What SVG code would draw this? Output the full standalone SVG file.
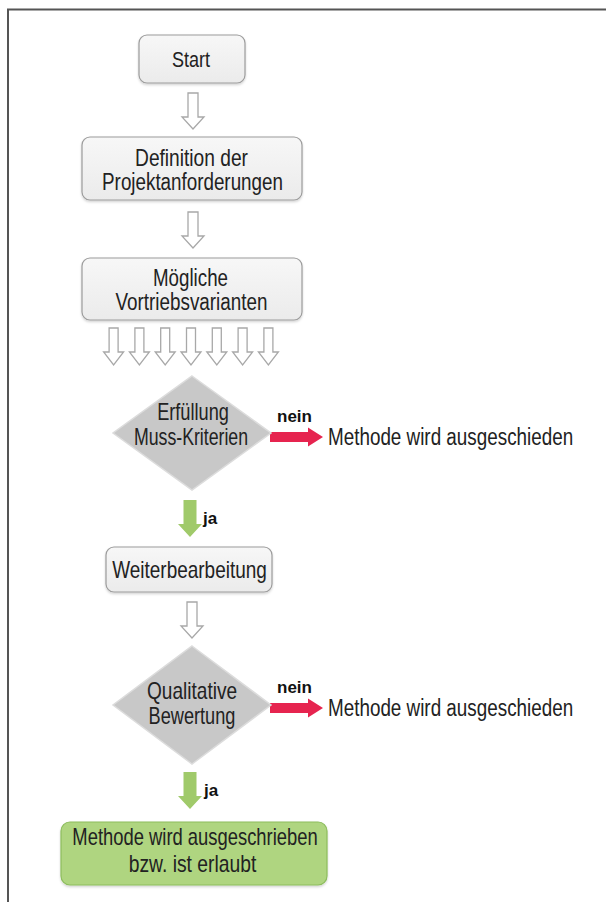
<svg xmlns="http://www.w3.org/2000/svg" width="606" height="902" viewBox="0 0 606 902">
  <style>
    .box { fill: url(#boxFill); stroke: #9c9c9c; stroke-width: 1.2; filter: url(#soft); }
    .goal { fill: #afd580; stroke: #8dbd5d; stroke-width: 1.2; filter: url(#soft); }
    .dia { fill: #c8c8c8; stroke: #dcdcdc; stroke-width: 1.5; }
    .lbl { font-family: "Liberation Sans", Arial, sans-serif; font-size: 23px; fill: #222; text-anchor: middle; }
    .side { font-family: "Liberation Sans", Arial, sans-serif; font-size: 23px; fill: #222; }
    .tag { font-family: "Liberation Sans", Arial, sans-serif; font-size: 17px; font-weight: bold; fill: #111; }
    .hollow { fill: #ffffff; stroke: #a8a8a8; stroke-width: 1.3; }
    .no { fill: #e6244f; }
    .yes { fill: #a0ca6a; }
    .frame { stroke: #555; stroke-width: 2; fill: none; }
  </style>
  <defs>
    <linearGradient id="boxFill" x1="0" y1="0" x2="0" y2="1">
      <stop offset="0" stop-color="#f7f7f7"/>
      <stop offset="1" stop-color="#ebebeb"/>
    </linearGradient>
    <filter id="soft" x="-10%" y="-10%" width="120%" height="130%">
      <feDropShadow dx="0" dy="1.5" stdDeviation="1.2" flood-color="#000" flood-opacity="0.18"/>
    </filter>
    <!-- outlined down arrow, origin at top centre -->
    <path id="down" d="M-5,0 H5 V24 H11 L0,36 L-11,24 H-5 Z"/>
    <path id="downSmall" d="M-4.5,0 H4.5 V24 H10 L0,37 L-10,24 H-4.5 Z"/>
    <!-- filled right arrow, origin at left middle -->
    <path id="right" d="M0,-5 H38 V-9.5 L53,0 L38,9.5 V5 H0 Z"/>
    <!-- filled down arrow, origin at top centre -->
    <path id="downFill" d="M-6.5,0 H6.5 V24 H12 L0,37 L-12,24 H-6.5 Z"/>
  </defs>

  <!-- page frame -->
  <g id="frame">
    <path class="frame" d="M7,9.5 H606"/>
    <path class="frame" d="M8,9 V902"/>
  </g>

  <g id="connectors">
    <use href="#down" class="hollow" x="193" y="93"/>
    <use href="#down" class="hollow" x="193" y="212"/>
    <use href="#downSmall" class="hollow" x="113.6" y="328"/>
    <use href="#downSmall" class="hollow" x="139.4" y="328"/>
    <use href="#downSmall" class="hollow" x="165.2" y="328"/>
    <use href="#downSmall" class="hollow" x="191" y="328"/>
    <use href="#downSmall" class="hollow" x="216.8" y="328"/>
    <use href="#downSmall" class="hollow" x="242.6" y="328"/>
    <use href="#downSmall" class="hollow" x="268.4" y="328"/>
    <use href="#down" class="hollow" x="192" y="602"/>
    <g id="no1">
      <use href="#right" class="no" x="270" y="437"/>
      <text class="tag" x="277" y="422">nein</text>
    </g>
    <g id="yes1">
      <use href="#downFill" class="yes" x="190" y="500"/>
      <text class="tag" x="203" y="524">ja</text>
    </g>
    <g id="no2">
      <use href="#right" class="no" x="270" y="708"/>
      <text class="tag" x="277" y="693">nein</text>
    </g>
    <g id="yes2">
      <use href="#downFill" class="yes" x="190" y="772"/>
      <text class="tag" x="204" y="796">ja</text>
    </g>
  </g>

  <g id="start">
    <rect class="box" x="139" y="35" width="106" height="48" rx="8"/>
    <text class="lbl" style="font-size:22px" transform="translate(191,67) scale(0.82,1)">Start</text>
  </g>

  <g id="requirements">
    <rect class="box" x="82" y="137" width="220" height="63" rx="8"/>
    <text class="lbl" transform="translate(191.5,166) scale(0.834,1)">Definition der</text>
    <text class="lbl" transform="translate(192.5,190) scale(0.818,1)">Projektanforderungen</text>
  </g>

  <g id="variants">
    <rect class="box" x="82" y="258" width="220" height="62" rx="8"/>
    <text class="lbl" transform="translate(190.5,286) scale(0.815,1)">Mögliche</text>
    <text class="lbl" transform="translate(191.5,310) scale(0.82,1)">Vortriebsvarianten</text>
  </g>

  <g id="mustCriteria">
    <path class="dia" d="M192,376 L271,433 L192,490 L113,433 Z"/>
    <text class="lbl" transform="translate(193,420) scale(0.79,1)">Erfüllung</text>
    <text class="lbl" transform="translate(191,445) scale(0.77,1)">Muss-Kriterien</text>
  </g>

  <g id="rejected1">
    <text class="side" transform="translate(328,445) scale(0.82,1)">Methode wird ausgeschieden</text>
  </g>

  <g id="furtherProcessing">
    <rect class="box" x="106" y="547" width="166" height="45" rx="8"/>
    <text class="lbl" transform="translate(189.5,578) scale(0.825,1)">Weiterbearbeitung</text>
  </g>

  <g id="qualitative">
    <path class="dia" d="M192,646 L271,705 L192,764 L113,705 Z"/>
    <text class="lbl" transform="translate(192,699) scale(0.83,1)">Qualitative</text>
    <text class="lbl" transform="translate(192,724) scale(0.79,1)">Bewertung</text>
  </g>

  <g id="rejected2">
    <text class="side" transform="translate(328,716) scale(0.82,1)">Methode wird ausgeschieden</text>
  </g>

  <g id="approved">
    <rect class="goal" x="61" y="822" width="266" height="63" rx="9"/>
    <text class="lbl" transform="translate(195,845) scale(0.80,1)">Methode wird ausgeschrieben</text>
    <text class="lbl" transform="translate(192.5,872) scale(0.84,1)">bzw. ist erlaubt</text>
  </g>
</svg>
